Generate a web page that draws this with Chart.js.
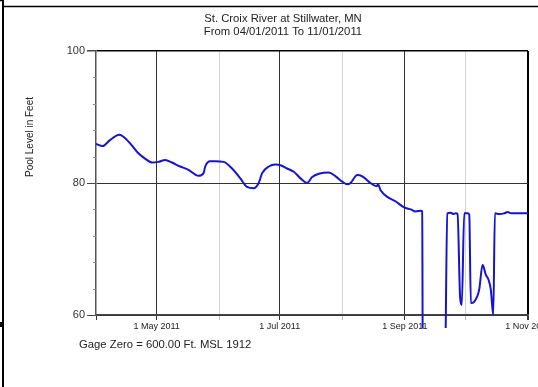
<!DOCTYPE html>
<html>
<head>
<meta charset="utf-8">
<script src="https://cdn.jsdelivr.net/npm/chart.js@4/dist/chart.umd.min.js"></script>
<style>
  html, body { margin: 0; padding: 0; background: #fff; overflow: hidden; }
  #wrap { position: absolute; left: 0; top: 0; width: 566px; height: 387px; }
</style>
</head>
<body>
<div id="wrap"><canvas id="chart"></canvas></div>
<script>
// days since 1 Apr 2011 and pool level (ft)
const dayOffsets = [0, 3.3, 6.9, 11.6, 13.6, 16.9, 21, 24.3, 27.7, 30.9, 34.3, 37.6, 41.7, 45.8, 50.8, 53.3,
  54.1, 56.6, 59.1, 63.2, 67.4, 71.5, 74.8, 78.1, 80.6, 82.3, 85.6, 88.9, 91.4, 94.7, 98, 101.3,
  104.6, 107.1, 110.4, 115.3, 118.7, 122, 124.5, 126.1, 129.4, 131.9, 136, 139, 139.7, 141, 144.3,
  148.5, 152.6, 155.9, 158.4, 160.9, 161.6, 161.9, 172.8, 174.0, 175.8, 177.1, 178.3, 179.1, 180.4,
  181.2, 182.4, 184.1, 184.9, 185.7, 187.3, 189.8, 191.5, 193.1, 194.5, 195.6, 196.8, 197.6, 199.8,
  202.2, 203.9, 205.6, 208.9, 212.2, 214];
const poolLevels = [85.9, 85.6, 86.5, 87.3, 87.0, 86.0, 84.5, 83.7, 83.1, 83.2, 83.5, 83.1, 82.5, 82.0, 81.1, 81.5,
  82.5, 83.3, 83.3, 83.2, 82.2, 80.7, 79.4, 79.2, 80.0, 81.5, 82.5, 82.8, 82.7, 82.2, 81.7, 80.7,
  80.0, 80.9, 81.4, 81.6, 81.0, 80.2, 79.8, 80.0, 81.2, 81.0, 80.0, 79.5, 79.8, 78.9, 77.9,
  77.2, 76.3, 76.0, 75.7, 75.8, 75.7, 50, 50, 75.4, 75.5, 75.3, 75.4, 75.3, 62.5,
  61.5, 75.4, 75.4, 75.2, 61.8, 62.0, 63.8, 67.6, 66.1, 65.3, 63.8, 60.0, 75.4, 75.3,
  75.4, 75.6, 75.4, 75.4, 75.4, 75.4];

// month starts (days since 1 Apr 2011) and their labels
const monthStarts = [0, 30, 61, 91, 122, 153, 183, 214];
const monthLabels = ["", "1 May 2011", "", "1 Jul 2011", "", "1 Sep 2011", "", "1 Nov 2011"];
const yLabelled = [60, 80, 100];

const titleLines = ["St. Croix River at Stillwater, MN", "From 04/01/2011 To 11/01/2011"];
const yTitle = "Pool Level in Feet";
const footerText = "Gage Zero = 600.00 Ft. MSL 1912";

Chart.defaults.font.family = "'Liberation Sans', Arial, sans-serif";

const decor = {
  id: "decor",
  afterDraw(chart) {
    const ctx = chart.ctx;
    const a = chart.chartArea;
    const y = chart.scales.y;
    ctx.save();
    // outer frame
    ctx.strokeStyle = "#000";
    ctx.lineWidth = 2;
    ctx.beginPath();
    ctx.moveTo(3, 0); ctx.lineTo(3, chart.height);
    ctx.stroke();
    ctx.lineWidth = 1.5;
    ctx.beginPath();
    ctx.moveTo(3, 6.5); ctx.lineTo(chart.width, 6.5);
    ctx.moveTo(0, 0.5); ctx.lineTo(3, 0.5);
    ctx.stroke();
    ctx.fillStyle = "#000";
    ctx.fillRect(0, 322, 2, 5);

    // minor y ticks
    ctx.strokeStyle = "#888";
    ctx.lineWidth = 1;
    y.ticks.forEach(t => {
      if (yLabelled.includes(t.value)) return;
      const py = Math.round(y.getPixelForValue(t.value)) + 0.5;
      ctx.beginPath();
      ctx.moveTo(a.left - 3, py); ctx.lineTo(a.left, py);
      ctx.stroke();
    });

    // titles
    ctx.fillStyle = "#222";
    ctx.font = "11.3px 'Liberation Sans', Arial, sans-serif";
    ctx.textAlign = "center";
    ctx.textBaseline = "middle";
    ctx.fillText(titleLines[0], 283, 19);
    ctx.fillText(titleLines[1], 283, 32);

    ctx.textAlign = "left";
    ctx.fillText(footerText, a.left - 17, a.bottom + 30);

    ctx.font = "10px 'Liberation Sans', Arial, sans-serif";
    ctx.translate(30, 137);
    ctx.rotate(-Math.PI / 2);
    ctx.textAlign = "center";
    ctx.fillText(yTitle, 0, 0);
    ctx.restore();
  }
};

new Chart(document.getElementById("chart"), {
  type: "line",
  data: {
    datasets: [{
      data: dayOffsets.map((d, i) => ({ x: d, y: poolLevels[i] })),
      borderColor: "#1414d2",
      borderWidth: 2,
      pointRadius: 0,
      cubicInterpolationMode: "monotone",
      clip: { left: 0, top: 0, right: 2, bottom: 13 }
    }]
  },
  options: {
    responsive: true,
    maintainAspectRatio: false,
    devicePixelRatio: 1,
    animation: false,
    layout: { padding: { left: 56, right: 38, top: 51, bottom: 52 } },
    plugins: {
      legend: { display: false },
      tooltip: { enabled: false }
    },
    scales: {
      x: {
        type: "linear",
        min: 0,
        max: 214,
        afterBuildTicks: s => { s.ticks = monthStarts.map(v => ({ value: v })); },
        afterFit: s => { s.height = 20; },
        border: { color: "#444", width: 1.5 },
        grid: {
          tickLength: 5,
          color: c => {
            const v = c.tick && c.tick.value;
            if (v === 214) return "#000";
            if (v === 0) return "rgba(0,0,0,0)";
            return monthLabels[monthStarts.indexOf(v)] ? "#333" : "#d4d4d4";
          },
          lineWidth: c => (c.tick && c.tick.value === 214 ? 2 : 1),
          tickColor: c => {
            const v = c.tick && c.tick.value;
            return (v === 0 || monthLabels[monthStarts.indexOf(v)]) ? "#333" : "#bbb";
          }
        },
        ticks: {
          autoSkip: false,
          maxRotation: 0,
          minRotation: 0,
          padding: 1,
          color: "#222",
          font: { size: 9 },
          callback: (v, i) => monthLabels[i]
        }
      },
      y: {
        min: 60,
        max: 100,
        afterFit: s => { s.width = 40; },
        border: { color: "#555", width: 1.5 },
        grid: {
          tickLength: 9,
          color: c => {
            const v = c.tick && c.tick.value;
            if (v === 100) return "#000";
            if (v === 80 || v === 60) return "#333";
            return "rgba(0,0,0,0)";
          },
          lineWidth: c => (c.tick && c.tick.value === 100 ? 1.5 : 1),
          tickColor: c => (yLabelled.includes(c.tick && c.tick.value) ? "#444" : "rgba(0,0,0,0)")
        },
        ticks: {
          stepSize: 4,
          padding: 2,
          color: "#333",
          font: { size: 11 },
          callback: v => (yLabelled.includes(v) ? String(v) : "")
        }
      }
    }
  },
  plugins: [decor]
});
</script>
</body>
</html>
